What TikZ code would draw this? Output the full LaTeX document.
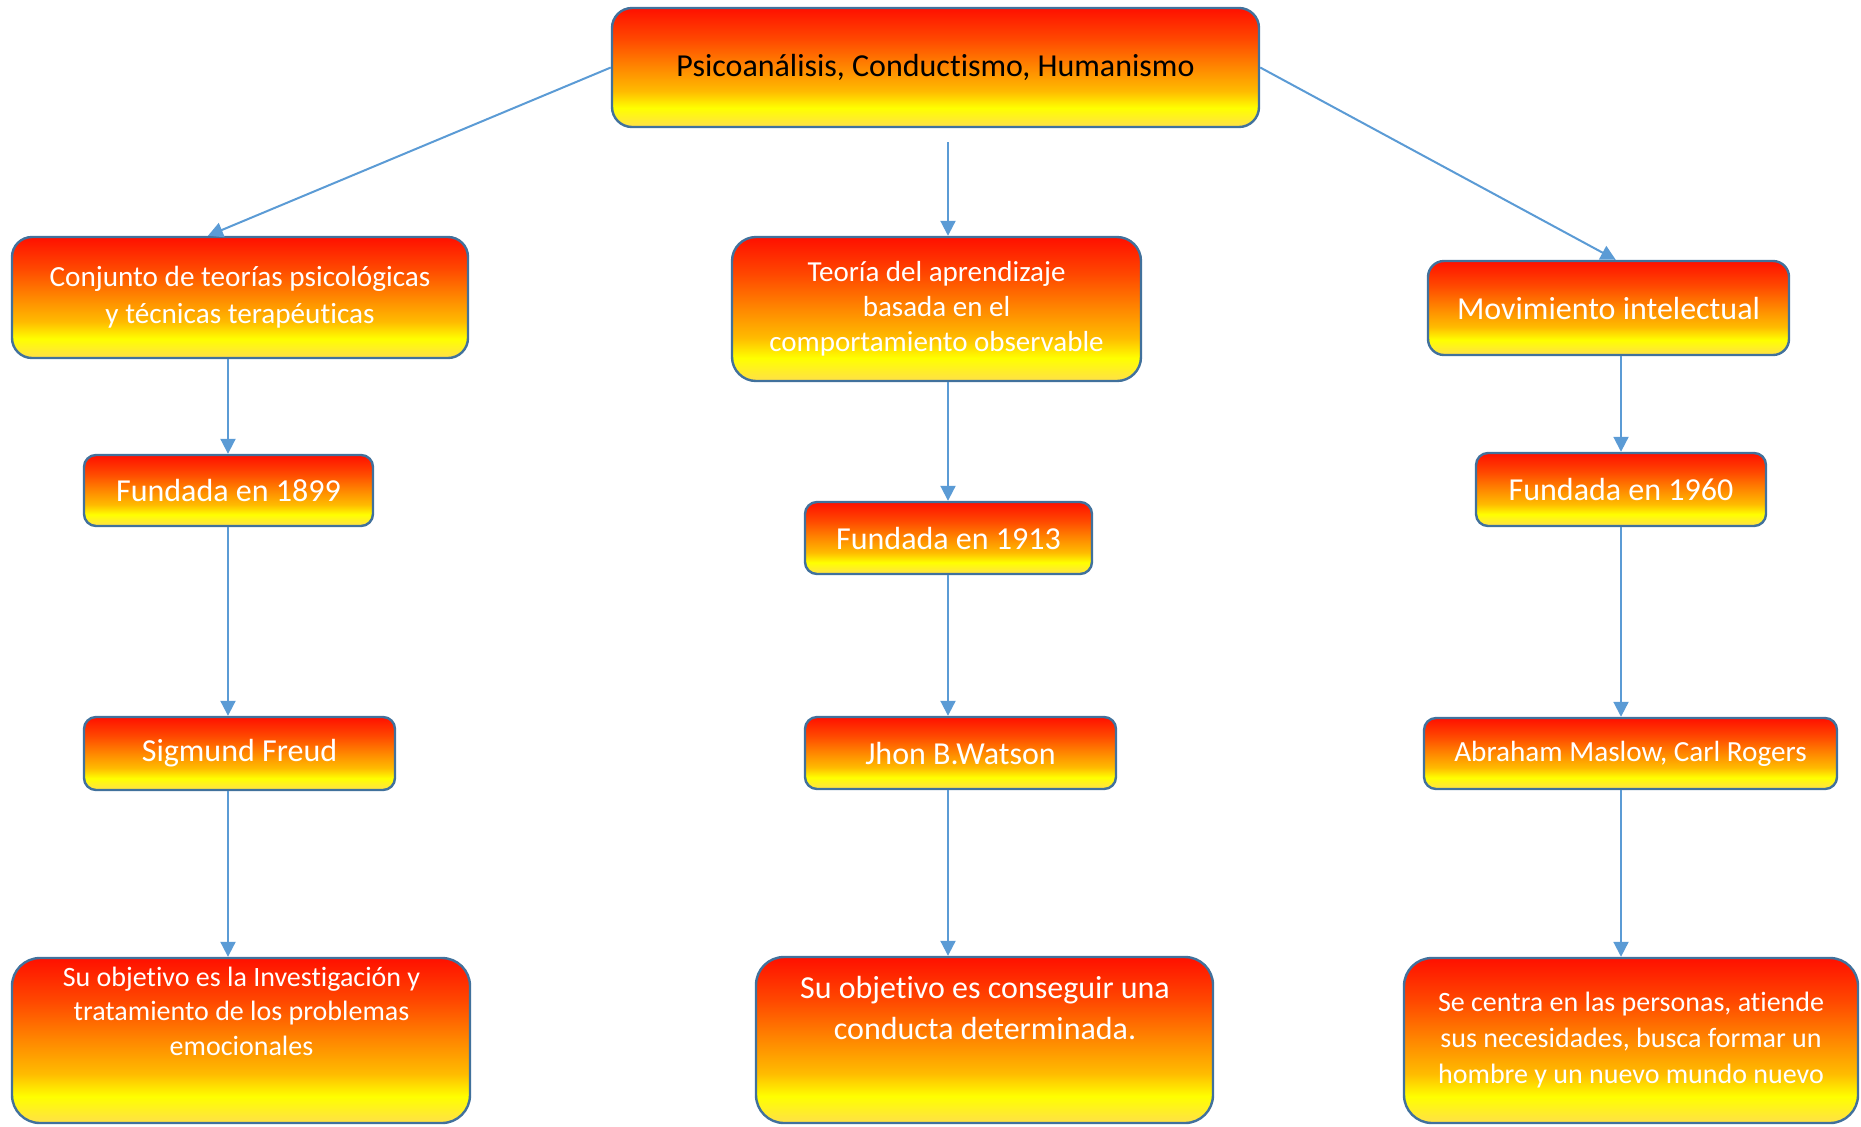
\documentclass[tikz,border=0pt]{standalone}
\usepackage{fontspec}
\setmainfont{Carlito}[Ligatures=NoCommon]
\usetikzlibrary{arrows.meta,calc}
\definecolor{bordc}{HTML}{41719C}
\definecolor{arrc}{HTML}{5B9BD5}
\definecolor{gR}{HTML}{FF1000}
\definecolor{gO1}{HTML}{FF4800}
\definecolor{gO2}{HTML}{FF8800}
\definecolor{gO3}{HTML}{FFBB00}
\definecolor{gY}{HTML}{FFFF00}
\definecolor{gB}{HTML}{FFE048}
\pgfdeclareverticalshading{boxshade}{100bp}{color(0bp)=(gB); color(25bp)=(gB); color(33bp)=(gY); color(40bp)=(gO3); color(50bp)=(gO2); color(62bp)=(gO1); color(75bp)=(gR); color(100bp)=(gR)}
\newcommand\myfs[2]{\fontsize{#1}{#2}\selectfont}
\tikzset{
  box/.style={draw=bordc, line width=1.2pt, shading=boxshade, text=white, align=center, inner sep=0pt},
  boxtext/.style={text=white, align=center, inner sep=0pt},
  conn/.style={draw=arrc, line width=1pt, -{Triangle[length=7.5pt,width=7.5pt]}},
}
\begin{document}
\begin{tikzpicture}[x=0.5pt,y=-0.5pt]
\useasboundingbox (0,0) rectangle (1861,1126);
% top
\node[box, text=black, minimum width=323.5pt, minimum height=59.5pt, rounded corners=10pt, font=\myfs{16pt}{20pt}] (top) at (935.5,67.5) {Psicoanálisis, Conductismo, Humanismo};
% left column
\node[box, minimum width=228pt, minimum height=60.5pt, rounded corners=10pt, font=\myfs{14.6pt}{18.4pt}] (L1) at (240,297.5) {Conjunto de teorías psicológicas\\y técnicas terapéuticas};
\node[box, minimum width=144.5pt, minimum height=35.5pt, rounded corners=6pt, font=\myfs{16pt}{20pt}] (L2) at (228.5,490.5) {Fundada en 1899};
\node[box, minimum width=155.5pt, minimum height=36.5pt, rounded corners=6pt, font=\myfs{16pt}{20pt}] (L3) at (239.5,753.5) {Sigmund Freud};
\node[box, minimum width=229pt, minimum height=82.5pt, rounded corners=14pt] (L4) at (241,1040.5) {};
\node[boxtext, font=\myfs{14pt}{17.2pt}] (L4t) at (241.5,1011) {Su objetivo es la Investigación y\\tratamiento de los problemas\\emocionales};
% middle column
\node[box, minimum width=204.5pt, minimum height=72pt, rounded corners=12pt, font=\myfs{14.5pt}{17.5pt}] (M1) at (936.5,309) {Teoría del aprendizaje\\basada en el\\comportamiento observable};
\node[box, minimum width=143.5pt, minimum height=36pt, rounded corners=6pt, font=\myfs{16pt}{20pt}] (M2) at (948.5,538) {Fundada en 1913};
\node[box, minimum width=155.5pt, minimum height=36pt, rounded corners=6pt, font=\myfs{16pt}{20pt}] (M3) at (960.5,753) {Jhon B.Watson};
\node[box, minimum width=228.5pt, minimum height=83pt, rounded corners=14pt] (M4) at (984.5,1040) {};
\node[boxtext, font=\myfs{16pt}{20.6pt}] (M4t) at (985,1008) {Su objetivo es conseguir una\\conducta determinada.};
% right column
\node[box, minimum width=180.5pt, minimum height=47pt, rounded corners=8pt, font=\myfs{16pt}{20pt}] (R1) at (1608.5,308) {Movimiento intelectual};
\node[box, minimum width=145pt, minimum height=36.5pt, rounded corners=6pt, font=\myfs{16pt}{20pt}] (R2) at (1621,489.5) {Fundada en 1960};
\node[box, minimum width=206.5pt, minimum height=35.5pt, rounded corners=6pt, font=\myfs{14.6pt}{18pt}] (R3) at (1630.5,753.5) {Abraham Maslow, Carl Rogers};
\node[box, minimum width=227pt, minimum height=82.5pt, rounded corners=14pt, font=\myfs{14pt}{18pt}] (R4) at (1631,1040.5) {Se centra en las personas, atiende\\sus necesidades, busca formar un\\hombre y un nuevo mundo nuevo};
% column x positions
\coordinate (xl) at (228,0);
\coordinate (xm) at (948,0);
\coordinate (xr) at (1621,0);
% connectors
\draw[conn] (top.west) -- ($(L1.north west)!0.43!(L1.north east)$);
\draw[conn, shorten <=7pt] (top.south -| xm) -- (M1.north -| xm);
\draw[conn] (top.east) -- ($(R1.north west)!0.52!(R1.north east)$);
\draw[conn] (L1.south -| xl) -- (L2.north -| xl);
\draw[conn] (L2.south -| xl) -- (L3.north -| xl);
\draw[conn] (L3.south -| xl) -- (L4.north -| xl);
\draw[conn] (M1.south -| xm) -- (M2.north -| xm);
\draw[conn] (M2.south -| xm) -- (M3.north -| xm);
\draw[conn] (M3.south -| xm) -- (M4.north -| xm);
\draw[conn] (R1.south -| xr) -- (R2.north -| xr);
\draw[conn] (R2.south -| xr) -- (R3.north -| xr);
\draw[conn] (R3.south -| xr) -- (R4.north -| xr);
\end{tikzpicture}
\end{document}
